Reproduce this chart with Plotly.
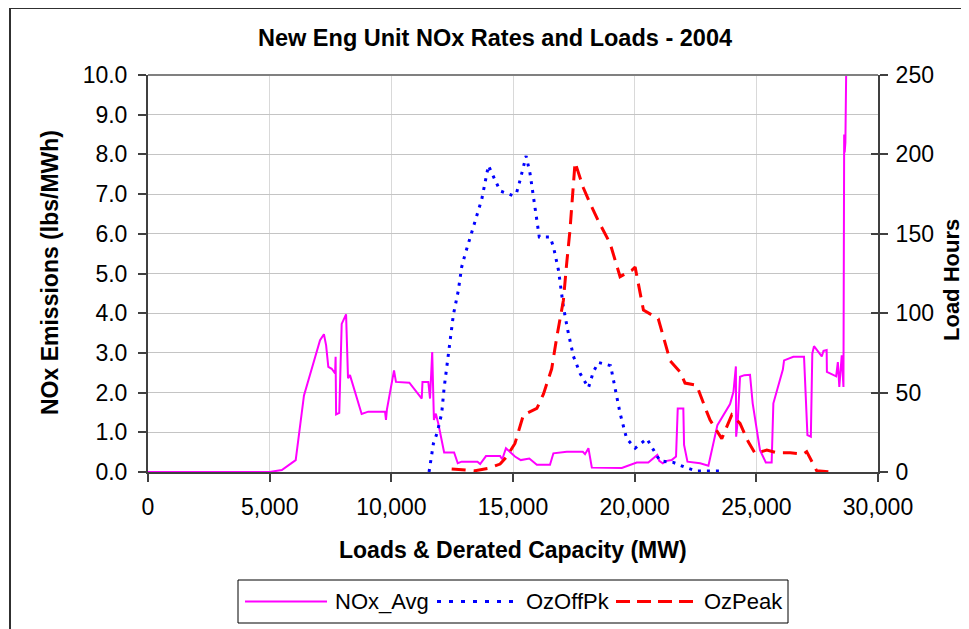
"""New England unit NOx rates and load hours, 2004."""

import plotly.graph_objects as go

# NOx_Avg (lbs/MWh) versus load / derated capacity (MW)
nox_mw = [0, 5000, 5500, 6070, 6410, 7070, 7230, 7320, 7410, 7550, 7690, 7710,
          7730, 7860, 7960, 8140, 8220, 8300, 8780, 9050, 9740, 9780, 9820,
          10110, 10190, 10740, 11250, 11280, 11520, 11590, 11680, 11750, 11830,
          11930, 12170, 12580, 12730, 12890, 13540, 13650, 13890, 14470, 14560,
          14710, 15080, 15320, 15670, 15980, 16520, 16660, 17210, 17870, 17960,
          18100, 18240, 19470, 20085, 20560, 20930, 21010, 21155, 21320, 21520,
          21700, 21770, 22000, 22030, 22170, 22690, 23030, 23400, 23920, 24060,
          24160, 24170, 24240, 24330, 24510, 24740, 24850, 25150, 25390, 25630,
          25700, 26090, 26140, 26520, 26960, 27100, 27240, 27300, 27370, 27690,
          27760, 27890, 27900, 28280, 28350, 28410, 28510, 28580, 28610, 28630,
          28660, 28700]
nox_avg = [0.0, 0.0, 0.05, 0.30, 1.93, 3.32, 3.47, 3.19, 2.65, 2.60, 2.48, 2.90,
           1.45, 1.49, 3.73, 3.97, 2.36, 2.44, 1.46, 1.52, 1.52, 1.31, 1.58,
           2.56, 2.27, 2.25, 1.85, 2.27, 2.27, 1.85, 3.02, 1.31, 1.47,
           1.22, 0.49, 0.49, 0.22, 0.26, 0.26, 0.20, 0.40, 0.40, 0.32,
           0.60, 0.39, 0.30, 0.34, 0.18, 0.18, 0.47, 0.51, 0.51, 0.45,
           0.60, 0.11, 0.10, 0.24, 0.24, 0.43, 0.28, 0.22, 0.28, 0.30,
           0.39, 1.60, 1.60, 0.68, 0.26, 0.22, 0.16, 1.18, 1.71, 2.02,
           2.66, 0.89, 1.31, 2.40, 2.44, 2.45, 1.73, 0.55, 0.24, 0.24,
           1.73, 2.58, 2.81, 2.90, 2.90, 0.93, 0.89, 2.98, 3.17, 2.91,
           3.05, 3.07, 2.52, 2.41, 2.77, 2.14, 2.94, 2.14, 8.50, 8.05,
           8.30, 10.5]

# OzOffPk load hours
offpk_mw = [11550, 11730, 11890, 12070, 12170, 12280, 12380, 12550, 12750, 12890,
            13030, 13210, 13350, 13540, 13720, 13810, 13990, 14470, 15010, 15150,
            15260, 15540, 15700, 15900, 16080, 16520, 16660, 16870, 17070, 17240,
            17480, 17760, 18100, 18300, 18510, 19010, 19190, 19400, 19670, 20020,
            20500, 21040, 21590, 22070, 22550, 23650]
offpk_hours = [0, 18, 25, 37, 53, 67, 81, 99, 114, 129,
               137, 146, 153, 164, 172, 179, 193, 177, 174, 176,
               182, 199, 188, 167, 148, 148, 142, 127, 104, 90,
               73, 62, 53, 63, 69, 67, 52, 37, 21, 15,
               21, 7, 6, 3, 0.6, 0.6]

# OzPeak load hours
peak_mw = [12480, 13440, 13990, 14470, 14740, 15080, 15430, 15980, 16250, 16590,
           16800, 17070, 17210, 17340, 17550, 17890, 18170, 18510, 18990, 19400,
           19880, 20020, 20360, 20770, 20970, 21460, 21870, 22070, 22550, 22960,
           23100, 23580, 23990, 24330, 24670, 24950, 25430, 25840, 26390, 26930,
           27070, 27480, 27960]
peak_hours = [1.9, 0.8, 2.3, 5, 9.6, 18, 36, 40, 49, 65,
              85, 108, 132, 152, 195, 179, 169, 158, 144, 123,
              127, 129, 102, 98, 96.5, 70, 63, 56, 54.6, 38,
              32.7, 21, 36, 30.6, 19, 11.7, 13.8, 12.1, 12.1, 11.3,
              12.8, 0.8, 0.2]

legend_names = ['NOx_Avg', 'OzOffPk', 'OzPeak']

# the page body adds an 8px margin, so the figure is laid out 8px smaller
OFF = 8
W, H = 969 - OFF, 629 - OFF
# plot area edges in screen pixels
PL, PR, PT, PB = 148, 878, 75, 472
FONT = 'Liberation Sans, Arial, sans-serif'
AXIS_DARK = '#404040'


def px_x(p):
    return (p - PL) / (PR - PL)


def px_y(p):
    return (PB - p) / (PB - PT)


fig = go.Figure()

fig.add_trace(go.Scatter(
    x=nox_mw, y=nox_avg, name=legend_names[0], mode='lines',
    line=dict(color='#FF00FF', width=2), yaxis='y'
))
fig.add_trace(go.Scatter(
    x=offpk_mw, y=offpk_hours, name=legend_names[1], mode='lines',
    line=dict(color='#0000FF', width=3, dash='3px,6px'), yaxis='y2'
))
fig.add_trace(go.Scatter(
    x=peak_mw, y=peak_hours, name=legend_names[2], mode='lines',
    line=dict(color='#FF0000', width=3, dash='14px,8px'), yaxis='y2'
))
# empty trace so the inner tick marks of the right axis get drawn
fig.add_trace(go.Scatter(x=[None], y=[None], yaxis='y3', showlegend=False,
                         hoverinfo='skip'))

tick_font = dict(family=FONT, size=23, color='black')

fig.update_layout(
    width=W, height=H,
    margin=dict(l=PL - OFF, r=W - (PR - OFF), t=PT - OFF, b=H - (PB - OFF)),
    paper_bgcolor='white', plot_bgcolor='white',
    showlegend=False,
    font=dict(family=FONT, color='black'),
    xaxis=dict(
        range=[0, 30000], dtick=5000, tickformat=',',
        showgrid=True, gridcolor='#d9d9d9', gridwidth=1,
        showline=True, linecolor=AXIS_DARK, linewidth=2,
        ticks='outside', ticklen=8, tickcolor=AXIS_DARK, tickwidth=2,
        tickfont=tick_font, ticklabelstandoff=5, zeroline=False,
    ),
    yaxis=dict(
        range=[0, 10], dtick=1, tickformat='.1f',
        showgrid=True, gridcolor='#c4c4c4', gridwidth=1,
        showline=True, linecolor=AXIS_DARK, linewidth=2,
        ticks='outside', ticklen=8, tickcolor=AXIS_DARK, tickwidth=2,
        tickfont=tick_font, ticklabelstandoff=6, zeroline=False,
    ),
    yaxis2=dict(
        range=[0, 250], dtick=50, overlaying='y', side='right',
        showgrid=False, showline=True, linecolor=AXIS_DARK, linewidth=2,
        ticks='outside', ticklen=8, tickcolor=AXIS_DARK, tickwidth=2,
        tickfont=tick_font, ticklabelstandoff=3, zeroline=False,
    ),
    yaxis3=dict(
        range=[0, 250], dtick=50, overlaying='y', side='right',
        showgrid=False, showline=False, showticklabels=False,
        ticks='inside', ticklen=7, tickcolor=AXIS_DARK, tickwidth=2,
        zeroline=False,
    ),
)

# frame: top border of plot area and outer chart border
shapes = [
    dict(type='line', xref='paper', yref='paper', x0=0, x1=1, y0=1, y1=1,
         line=dict(color='#808080', width=2)),
    dict(type='rect', xref='paper', yref='paper',
         x0=px_x(10), x1=px_x(1000), y0=px_y(8), y1=px_y(700),
         line=dict(color='#303030', width=2)),
    # legend box
    dict(type='rect', xref='paper', yref='paper',
         x0=px_x(238), x1=px_x(788), y0=px_y(580), y1=px_y(623),
         line=dict(color='black', width=1), fillcolor='white'),
]

legend_y = px_y(601.5)
legend_items = [
    (245, 327, 333, dict(color='#FF00FF', width=2)),
    (437, 514, 524, dict(color='#0000FF', width=3, dash='4px,8px')),
    (616, 697, 702, dict(color='#FF0000', width=3, dash='14px,7px')),
]
for (lx0, lx1, tx, style), name in zip(legend_items, legend_names):
    shapes.append(dict(type='line', xref='paper', yref='paper',
                       x0=px_x(lx0), x1=px_x(lx1), y0=legend_y, y1=legend_y,
                       line=style))
    fig.add_annotation(
        text=name, xref='paper', yref='paper', x=px_x(tx), y=legend_y,
        xanchor='left', yanchor='middle', showarrow=False,
        font=dict(family=FONT, size=22, color='black')
    )

fig.update_layout(shapes=shapes)

fig.add_annotation(
    text='<b>New Eng Unit NOx Rates and Loads - 2004</b>',
    xref='paper', yref='paper', x=px_x(495), y=px_y(38),
    xanchor='center', yanchor='middle', showarrow=False,
    font=dict(family=FONT, size=23.5, color='black')
)
axis_title_font = dict(family=FONT, size=23, color='black')
fig.add_annotation(
    text='<b>Loads & Derated Capacity (MW)</b>',
    xref='paper', yref='paper', x=px_x(513), y=px_y(550),
    xanchor='center', yanchor='middle', showarrow=False, font=axis_title_font
)
fig.add_annotation(
    text='<b>NOx Emissions (lbs/MWh)</b>',
    xref='paper', yref='paper', x=px_x(50), y=px_y(273),
    xanchor='center', yanchor='middle', showarrow=False, textangle=-90,
    font=axis_title_font
)
fig.add_annotation(
    text='<b>Load Hours</b>',
    xref='paper', yref='paper', x=px_x(951), y=px_y(280),
    xanchor='center', yanchor='middle', showarrow=False, textangle=-90,
    font=dict(family=FONT, size=22, color='black')
)

fig.write_html("out.html")
